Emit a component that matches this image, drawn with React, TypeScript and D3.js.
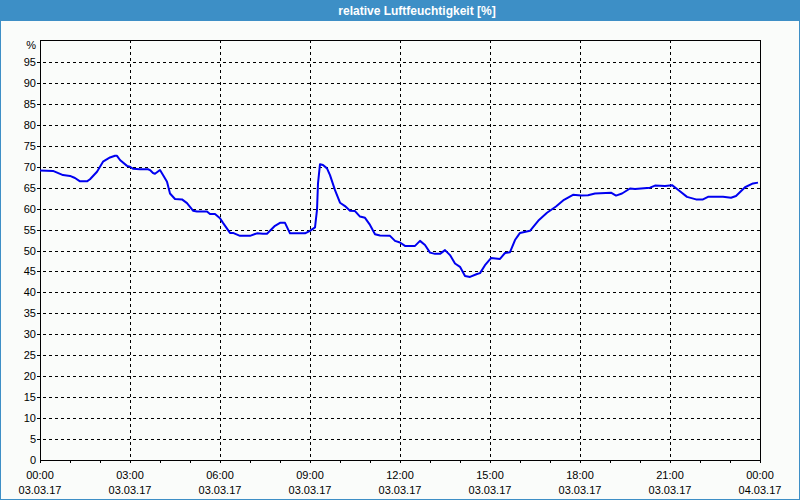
import React from "react";
import * as d3 from "d3";

// minutes since 03.03.17 00:00
const minutes = [0, 26, 46, 60, 70, 80, 94, 100, 114, 126, 140, 150, 154, 160, 174, 180, 186, 200, 216, 220, 226, 230, 240, 246, 254, 260, 270, 284, 294, 306, 314, 334, 340, 350, 360, 366, 380, 386, 400, 420, 434, 446, 454, 460, 470, 480, 490, 500, 530, 540, 550, 554, 556, 560, 566, 574, 580, 590, 600, 610, 620, 630, 640, 650, 660, 670, 680, 700, 710, 720, 730, 750, 760, 770, 780, 790, 800, 810, 820, 830, 840, 850, 860, 874, 880, 890, 902, 920, 930, 940, 950, 960, 980, 998, 1014, 1032, 1048, 1066, 1082, 1096, 1110, 1142, 1152, 1164, 1180, 1190, 1220, 1230, 1250, 1264, 1278, 1294, 1312, 1326, 1336, 1366, 1382, 1392, 1410, 1426, 1436];
const humidity = [69.1, 69.0, 68.0, 67.8, 67.3, 66.5, 66.5, 67.0, 68.8, 71.2, 72.2, 72.6, 72.6, 71.6, 70.2, 70.0, 69.5, 69.4, 69.4, 69.2, 68.5, 68.3, 69.2, 68.0, 66.4, 63.6, 62.3, 62.2, 61.3, 59.5, 59.3, 59.3, 58.7, 58.7, 57.7, 56.6, 54.2, 54.2, 53.5, 53.5, 54.1, 54.0, 54.0, 54.7, 55.9, 56.6, 56.6, 54.1, 54.1, 54.7, 55.5, 59.7, 66.0, 70.6, 70.4, 69.6, 68.0, 64.4, 61.4, 60.6, 59.5, 59.4, 58.1, 57.8, 56.1, 53.9, 53.6, 53.5, 52.3, 51.9, 51.1, 51.1, 52.3, 51.3, 49.5, 49.2, 49.2, 50.1, 48.9, 46.9, 46.1, 43.9, 43.7, 44.4, 44.6, 46.5, 48.2, 48.0, 49.4, 49.6, 52.5, 54.2, 54.7, 57.3, 59.0, 60.5, 62.1, 63.3, 63.1, 63.2, 63.6, 63.8, 63.1, 63.6, 64.8, 64.7, 65.0, 65.5, 65.4, 65.6, 64.3, 62.8, 62.2, 62.2, 62.8, 62.8, 62.6, 63.0, 65.1, 66.0, 66.2];

const xTickTimes = ["00:00", "03:00", "06:00", "09:00", "12:00", "15:00", "18:00", "21:00", "00:00"];
const xTickDates = ["03.03.17", "03.03.17", "03.03.17", "03.03.17", "03.03.17", "03.03.17", "03.03.17", "03.03.17", "04.03.17"];
const yTicks = [0, 5, 10, 15, 20, 25, 30, 35, 40, 45, 50, 55, 60, 65, 70, 75, 80, 85, 90, 95];
const title = "relative Luftfeuchtigkeit [%]";
const yUnit = "%";

export default function App() {
  const W = 800, H = 500;
  const left = 40, right = 760, top = 40, bottom = 460;
  const x = d3.scaleLinear().domain([0, 1440]).range([left, right]);
  const y = d3.scaleLinear().domain([0, 100]).range([bottom, 41]);
  const line = d3.line<number>().x((_, i) => x(minutes[i])).y((d) => y(d));
  const hourTicks = d3.range(0, 25).map((h) => h * 60);
  const font = "'Liberation Sans', Arial, sans-serif";
  return (
    <svg width={W} height={H} style={{ position: "absolute", left: 0, top: 0 }} fontFamily={font}>
      <rect x={0} y={0} width={W} height={H} fill="#fafcfa" />
      <rect x={0.5} y={0.5} width={W - 1} height={H - 1} fill="none" stroke="#3d8fc6" />
      <rect x={0} y={0} width={W} height={21} fill="#3d8fc6" />
      <text x={417} y={15} fill="#ffffff" fontSize={12} fontWeight="bold" textAnchor="middle">{title}</text>
      {/* horizontal grid */}
      {yTicks.filter((v) => v > 0).map((v) => (
        <line key={"h" + v} x1={left - 3} x2={right} y1={Math.round(y(v)) + 0.5} y2={Math.round(y(v)) + 0.5} stroke="#000" strokeDasharray="3,3" />
      ))}
      {/* vertical grid */}
      {xTickTimes.map((_, i) => i).filter((i) => i > 0 && i < 8).map((i) => (
        <line key={"v" + i} x1={Math.round(x(i * 180)) + 0.5} x2={Math.round(x(i * 180)) + 0.5} y1={top} y2={bottom + 3} stroke="#000" strokeDasharray="3,3" />
      ))}
      {/* hour ticks */}
      {hourTicks.map((m) => (
        <line key={"t" + m} x1={Math.round(x(m)) + 0.5} x2={Math.round(x(m)) + 0.5} y1={bottom} y2={bottom + 3} stroke="#000" />
      ))}
      {/* frame */}
      <rect x={left + 0.5} y={top + 0.5} width={right - left} height={bottom - top} fill="none" stroke="#000" />
      {/* y labels */}
      {yTicks.map((v) => (
        <text key={"y" + v} x={36} y={y(v) + 4} fontSize={11} textAnchor="end" fill="#000">{v}</text>
      ))}
      <text x={36} y={49} fontSize={11} textAnchor="end" fill="#000">{yUnit}</text>
      {/* x labels */}
      {xTickTimes.map((t, i) => (
        <g key={"x" + i}>
          <text x={x(i * 180)} y={479} fontSize={11} textAnchor="middle" fill="#000">{t}</text>
          <text x={x(i * 180)} y={494} fontSize={11} textAnchor="middle" fill="#000">{xTickDates[i]}</text>
        </g>
      ))}
      <path d={line(humidity) || ""} fill="none" stroke="#0000f0" strokeWidth={2} strokeLinejoin="round" />
    </svg>
  );
}
